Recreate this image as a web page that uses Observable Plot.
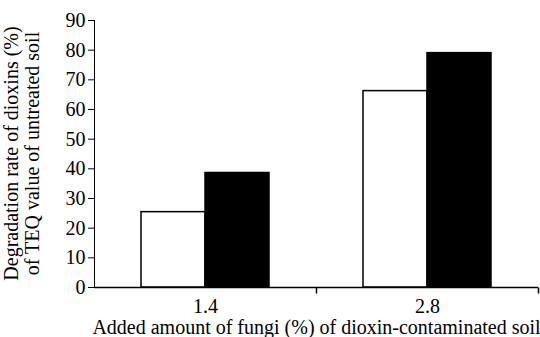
<!DOCTYPE html>
<html>
<head>
<meta charset="utf-8">
<script src="https://cdn.jsdelivr.net/npm/d3@7"></script>
<script src="https://cdn.jsdelivr.net/npm/@observablehq/plot@0.6"></script>
<style>
  html, body { margin: 0; padding: 0; background: #fff; }
  #chart svg { display: block; }
</style>
</head>
<body>
<div id="chart"></div>
<script>
// ---- data ----
const groups = ["1.4", "2.8"];
const seriesNames = ["Series 1", "Series 2"];
const series1Values = [25.4, 66.2];
const series2Values = [38.6, 79.0];
const seriesFills = ["white", "black"];
const yTicks = [0, 10, 20, 30, 40, 50, 60, 70, 80, 90];
const xTitle = "Added amount of fungi (%) of dioxin-contaminated soil";
const yTitleLines = ["Degradation rate of dioxins (%)", "of TEQ value of untreated soil"];

const data = [];
groups.forEach((g, i) => {
  data.push({group: g, series: seriesNames[0], value: series1Values[i]});
  data.push({group: g, series: seriesNames[1], value: series2Values[i]});
});

const tickDown = { draw(ctx) { ctx.moveTo(0, 0); ctx.lineTo(0, 6); } };

const chart = Plot.plot({
  width: 540,
  height: 337,
  marginLeft: 93,
  marginRight: 2,
  marginTop: 20,
  marginBottom: 50,
  style: { fontFamily: "'Liberation Serif', 'Times New Roman', serif", fontSize: "20px", background: "white", color: "black" },
  facet: { data, x: "group" },
  fx: { domain: groups, padding: 0, axis: "bottom", tickSize: 0, tickPadding: 11, label: xTitle, labelAnchor: "center", labelOffset: 46 },
  x: { domain: seriesNames, paddingInner: 0, paddingOuter: 0.71, axis: null },
  y: { domain: [0, 90], ticks: yTicks, tickSize: 6, tickPadding: 3, tickFormat: d3.format("d"), label: null, line: true },
  color: { domain: seriesNames, range: seriesFills },
  marks: [
    Plot.barY(data, { x: "series", y: "value", fill: "series", stroke: "black", strokeWidth: 1.5 }),
    Plot.ruleY([0], { stroke: "black", strokeWidth: 1.5 }),
    Plot.dot([0], { frameAnchor: "bottom-right", symbol: tickDown, stroke: "black", strokeWidth: 1.5, fill: "none" })
  ]
});

const svg = d3.select(chart.tagName.toLowerCase() === "svg" ? chart : chart.querySelector("svg"));
const yCenter = (20 + (337 - 50)) / 2;
const t = svg.append("text")
  .attr("transform", `translate(0,${yCenter}) rotate(-90)`)
  .attr("text-anchor", "middle")
  .attr("fill", "black")
  .style("font-family", "'Liberation Serif', 'Times New Roman', serif")
  .style("font-size", "20px");
yTitleLines.forEach((line, i) => {
  t.append("tspan").attr("x", 0).attr("y", 18 + i * 21).text(line);
});

document.getElementById("chart").appendChild(chart);
</script>
</body>
</html>
